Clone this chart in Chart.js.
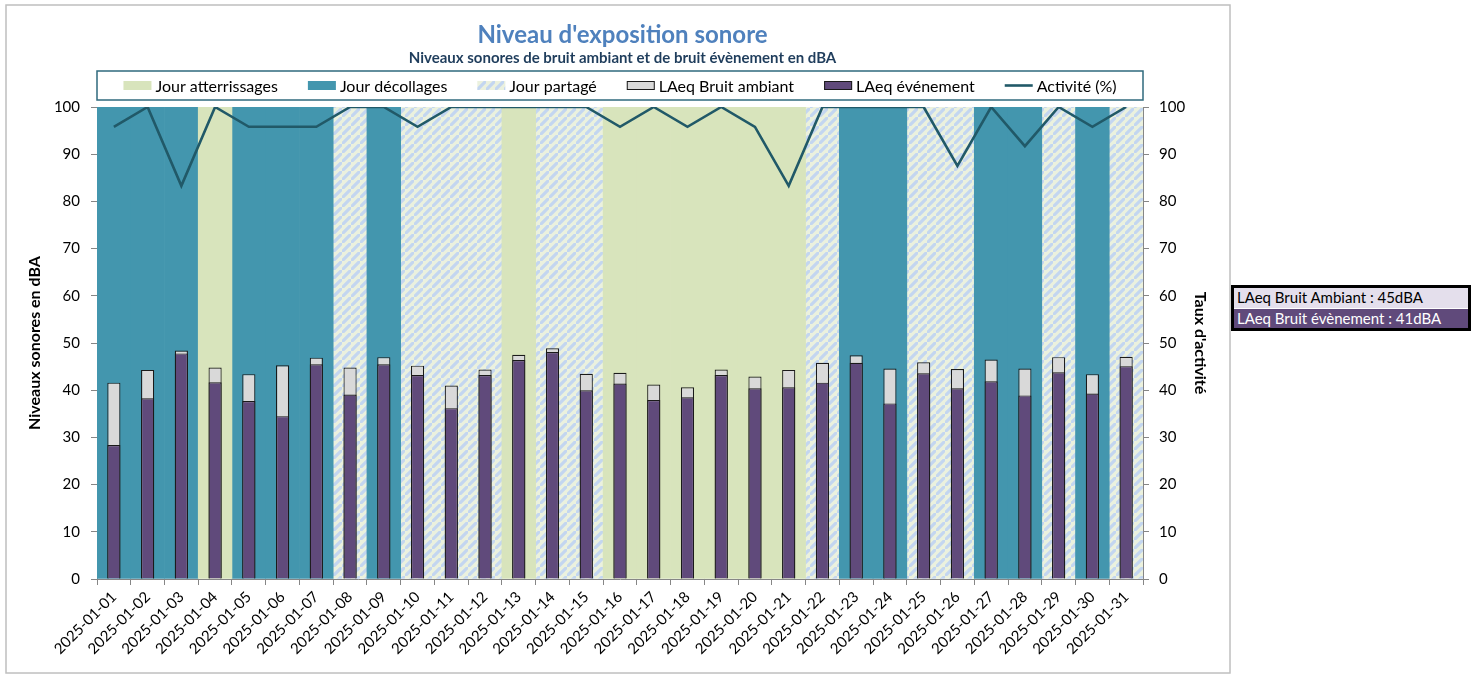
<!DOCTYPE html>
<html lang="fr">
<head>
<meta charset="utf-8">
<title>Niveau d'exposition sonore</title>
<script src="https://cdn.jsdelivr.net/npm/chart.js@4.4.1/dist/chart.umd.min.js"></script>
<style>
  html, body { margin: 0; padding: 0; background: #fff; }
  body { width: 1481px; height: 675px; position: relative; overflow: hidden; font-family: Lato, "Open Sans", sans-serif; }
  #wrap { position: absolute; left: 0; top: 0; width: 1481px; height: 675px; }
  .summary { position: absolute; left: 1231px; top: 285px; width: 234px; border: 3px solid #000; font-size: 15px; }
  .summary div { height: 19px; line-height: 19px; padding-left: 3px; white-space: nowrap; }
  .summary .amb { background: #e4dfec; color: #000; height: 20px; border-bottom: 1px solid #fff; }
  .summary .evt { background: #604a7b; color: #fff; }
</style>
</head>
<body>
<div id="wrap"><canvas id="chart" width="1481" height="675"></canvas></div>
<div class="summary">
  <div class="amb" id="sumAmb"></div>
  <div class="evt" id="sumEvt"></div>
</div>
<script>
// one entry per day of January 2025
const days = [
  '2025-01-01', '2025-01-02', '2025-01-03', '2025-01-04', '2025-01-05', '2025-01-06', '2025-01-07',
  '2025-01-08', '2025-01-09', '2025-01-10', '2025-01-11', '2025-01-12', '2025-01-13', '2025-01-14',
  '2025-01-15', '2025-01-16', '2025-01-17', '2025-01-18', '2025-01-19', '2025-01-20', '2025-01-21',
  '2025-01-22', '2025-01-23', '2025-01-24', '2025-01-25', '2025-01-26', '2025-01-27', '2025-01-28',
  '2025-01-29', '2025-01-30', '2025-01-31'
];

// A = atterrissages, D = décollages, P = partagé
const dayType = [
  'D', 'D', 'D', 'A', 'D', 'D', 'D', 'P', 'D', 'P', 'P', 'P', 'A', 'P', 'P', 'A',
  'A', 'A', 'A', 'A', 'A', 'P', 'D', 'D', 'P', 'P', 'D', 'D', 'P', 'D', 'P'
];

// LAeq in dBA
const ambient = [
  41.6, 44.3, 48.4, 44.8, 43.4, 45.3, 46.9, 44.8, 47.0, 45.2, 41.0, 44.4, 47.5, 48.9, 43.5, 43.7,
  41.2, 40.6, 44.4, 42.9, 44.3, 45.8, 47.4, 44.6, 45.9, 44.5, 46.5, 44.6, 47.0, 43.4, 47.1
];
const eventLevel = [
  28.4, 38.3, 47.8, 41.7, 37.7, 34.5, 45.5, 39.1, 45.5, 43.2, 36.2, 43.2, 46.4, 48.1, 40.0, 41.4,
  37.9, 38.5, 43.2, 40.4, 40.6, 41.6, 45.8, 37.2, 43.6, 40.4, 41.9, 38.9, 43.8, 39.3, 45.1
];

// runway activity in %
const activity = [
  95.8, 100, 83.3, 100, 95.8, 95.8, 95.8, 100, 100, 95.8, 100, 100, 100, 100, 100, 95.8,
  100, 95.8, 100, 95.8, 83.3, 100, 100, 100, 100, 87.5, 100, 91.7, 100, 95.8, 100
];

const summaryAmbient = 45;
const summaryEvent = 41;

document.getElementById('sumAmb').textContent = 'LAeq Bruit Ambiant : ' + summaryAmbient + 'dBA';
document.getElementById('sumEvt').textContent = 'LAeq Bruit évènement : ' + summaryEvent + 'dBA';

const FONT = 'Lato, "Open Sans", sans-serif';

// diagonal hatch used for the "jour partagé" days
function makeHatch() {
  const s = 9;
  const c = document.createElement('canvas');
  c.width = s;
  c.height = s;
  const g = c.getContext('2d');
  g.fillStyle = '#ebf1de';
  g.fillRect(0, 0, s, s);
  g.strokeStyle = '#c3d6f0';
  g.lineWidth = 3.2;
  g.beginPath();
  g.moveTo(-2, s + 2); g.lineTo(s + 2, -2);
  g.moveTo(-s - 2, 2); g.lineTo(2, -s - 2);
  g.moveTo(s - 2, 2 * s + 2); g.lineTo(2 * s + 2, s - 2);
  g.stroke();
  return g.createPattern(c, 'repeat');
}
const hatch = makeHatch();

const fullDay = (t) => dayType.map((d) => (d === t ? 100 : null));

const bgBar = {
  type: 'bar',
  grouped: false,
  barPercentage: 1,
  categoryPercentage: 1,
  borderWidth: 0,
  yAxisID: 'y',
  order: 3
};

// outer frame + boxed legend above the plot
const frameAndLegend = {
  id: 'frameAndLegend',
  beforeDraw(chart) {
    const { ctx } = chart;
    ctx.save();
    ctx.fillStyle = '#fff';
    ctx.fillRect(0, 0, chart.width, chart.height);
    ctx.strokeStyle = '#bfbfbf';
    ctx.lineWidth = 1.5;
    ctx.strokeRect(6, 5, 1224, 668);
    ctx.restore();
  },
  afterDraw(chart) {
    const { ctx, chartArea } = chart;
    const top = chartArea.top - 36;
    const h = 29;
    ctx.save();
    ctx.strokeStyle = '#2f6a7d';
    ctx.lineWidth = 1.5;
    ctx.strokeRect(chartArea.left, top, chartArea.right - chartArea.left, h);

    ctx.font = '16px ' + FONT;
    ctx.textBaseline = 'middle';
    const boxW = 28, boxH = 9, textGap = 4, itemGap = 30;
    const items = chart.data.datasets.map((ds) => ({
      ds,
      w: boxW + textGap + ctx.measureText(ds.label).width
    }));
    const total = items.reduce((s, it) => s + it.w, 0) + itemGap * (items.length - 1);
    let x = (chartArea.left + chartArea.right) / 2 - total / 2;
    const cy = top + h / 2;
    items.forEach(({ ds, w }) => {
      if (ds.type === 'line') {
        ctx.strokeStyle = ds.borderColor;
        ctx.lineWidth = ds.borderWidth;
        ctx.beginPath();
        ctx.moveTo(x, cy);
        ctx.lineTo(x + boxW, cy);
        ctx.stroke();
      } else {
        ctx.fillStyle = ds.backgroundColor;
        ctx.fillRect(x, cy - boxH / 2, boxW, boxH);
        if (ds.borderWidth) {
          ctx.strokeStyle = ds.borderColor;
          ctx.lineWidth = 1;
          ctx.strokeRect(x + 0.5, cy - boxH / 2 + 0.5, boxW - 1, boxH - 1);
        }
      }
      ctx.fillStyle = '#000';
      ctx.fillText(ds.label, x + boxW + textGap, cy + 1);
      x += w + itemGap;
    });
    ctx.restore();
  }
};

new Chart(document.getElementById('chart'), {
  type: 'bar',
  data: {
    labels: days,
    datasets: [
      { ...bgBar, label: 'Jour atterrissages', data: fullDay('A'), backgroundColor: '#d8e4bc' },
      { ...bgBar, label: 'Jour décollages', data: fullDay('D'), backgroundColor: '#4396ae' },
      { ...bgBar, label: 'Jour partagé', data: fullDay('P'), backgroundColor: hatch },
      {
        type: 'bar',
        label: 'LAeq Bruit ambiant',
        data: ambient,
        grouped: false,
        barPercentage: 0.39,
        categoryPercentage: 1,
        backgroundColor: '#d9d9d9',
        borderColor: '#1a1a1a',
        borderWidth: 1.2,
        yAxisID: 'y',
        order: 2
      },
      {
        type: 'bar',
        label: 'LAeq événement',
        data: eventLevel,
        grouped: false,
        barPercentage: 0.39,
        categoryPercentage: 1,
        backgroundColor: '#604a7b',
        borderColor: '#1a1a1a',
        borderWidth: 1.2,
        yAxisID: 'y',
        order: 1
      },
      {
        type: 'line',
        label: 'Activité (%)',
        data: activity,
        borderColor: '#215968',
        backgroundColor: '#215968',
        borderWidth: 2.6,
        pointRadius: 0,
        tension: 0,
        yAxisID: 'y2',
        order: 0
      }
    ]
  },
  options: {
    responsive: false,
    animation: false,
    layout: { padding: { left: 22, right: 258, top: 8, bottom: 4 } },
    plugins: {
      legend: { display: false },
      tooltip: { enabled: false },
      title: {
        display: true,
        text: "Niveau d'exposition sonore",
        color: '#4f81bd',
        font: { family: FONT, size: 24, weight: 'bold' },
        padding: { top: 12.6, bottom: 0 }
      },
      subtitle: {
        display: true,
        text: 'Niveaux sonores de bruit ambiant et de bruit évènement en dBA',
        color: '#1f3d5c',
        font: { family: FONT, size: 15, weight: 'bold' },
        padding: { top: 0, bottom: 39.6 }
      }
    },
    scales: {
      x: {
        afterFit: (s) => { s.height = 92; },
        grid: { drawOnChartArea: false, tickLength: 6, color: '#868686' },
        border: { color: '#868686' },
        ticks: {
          autoSkip: false,
          maxRotation: 45,
          minRotation: 45,
          color: '#000',
          font: { family: FONT, size: 15 }
        }
      },
      y: {
        position: 'left',
        min: 0,
        max: 100,
        afterFit: (s) => { s.width = 75; },
        grid: { drawOnChartArea: false, tickLength: 6, color: '#868686' },
        border: { color: '#868686' },
        ticks: { stepSize: 10, padding: 11, color: '#000', font: { family: FONT, size: 15 } },
        title: {
          display: true,
          text: 'Niveaux sonores en dBA',
          color: '#000',
          font: { family: FONT, size: 16, weight: 'bold' },
          padding: { top: 3, bottom: 0 }
        }
      },
      y2: {
        position: 'right',
        min: 0,
        max: 100,
        afterFit: (s) => { s.width = 80; },
        grid: { drawOnChartArea: false, tickLength: 6, color: '#868686' },
        border: { color: '#868686' },
        ticks: { stepSize: 10, padding: 10, color: '#000', font: { family: FONT, size: 15 } },
        title: {
          display: true,
          text: "Taux d'activité",
          color: '#000',
          font: { family: FONT, size: 16, weight: 'bold' },
          padding: { top: 13, bottom: 0 }
        }
      }
    }
  },
  plugins: [frameAndLegend]
});
</script>
</body>
</html>
